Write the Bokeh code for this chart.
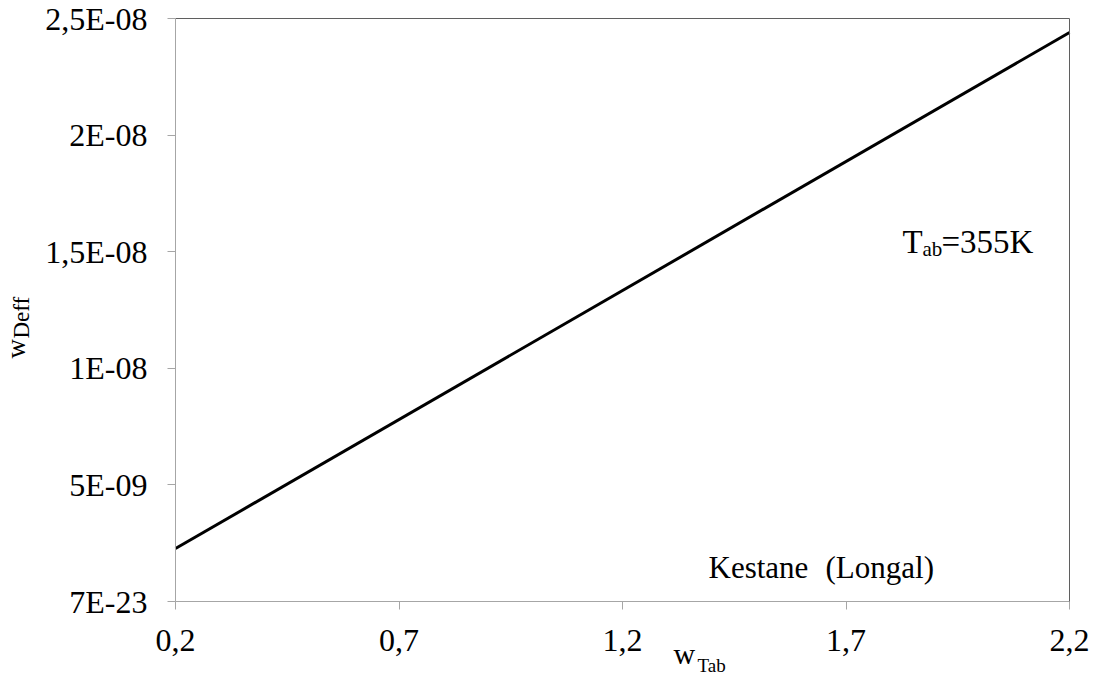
from bokeh.plotting import figure
from bokeh.models import Range1d, FixedTicker, CustomJSTickFormatter, Label, LinearAxis
from bokeh.embed import file_html
from bokeh.resources import INLINE
import math

# ---- data ----
x_vals = [0.2, 2.2]
y_vals = [2.27e-09, 2.44e-08]

x_ticks = [0.2, 0.7, 1.2, 1.7, 2.2]
x_tick_labels = ["0,2", "0,7", "1,2", "1,7", "2,2"]
y_ticks = [0.0, 5e-09, 1e-08, 1.5e-08, 2e-08, 2.5e-08]
y_tick_labels = ["7E-23", "5E-09", "1E-08", "1,5E-08", "2E-08", "2,5E-08"]

note_temp = ("T", "ab", "=355K")
note_wood = ("Kestane", "(Longal)")
x_label = ("w", "Tab")
y_label = ("w", "Deff")

# ---- layout ----
W, H = 1105, 677
FL, FR, FT, FB = 175, 1069, 18, 601          # plot-area box in pixels
XMIN, XMAX = 0.2, 2.2
YMIN, YMAX = 0.0, 2.5e-08
FONT = "Liberation Serif"

# extend the ranges so that the plot area sits at the box above while the
# frame covers the whole canvas (so texts outside the plot area are not clipped)
sx = (XMAX - XMIN) / (FR - FL)
sy = (YMAX - YMIN) / (FB - FT)
x_range = Range1d(XMIN - FL * sx, XMAX + (W - FR) * sx)
y_range = Range1d(YMIN - (H - FB) * sy, YMAX + FT * sy)

p = figure(width=W, height=H, output_backend="svg", toolbar_location=None,
           x_range=x_range, y_range=y_range, x_axis_location=None, y_axis_location=None,
           min_border=0, min_border_left=0, min_border_right=0,
           min_border_top=0, min_border_bottom=0)
p.background_fill_color = "white"
p.border_fill_color = "white"
p.outline_line_color = None
p.xgrid.visible = False
p.ygrid.visible = False

p.line(x_vals, y_vals, line_color="black", line_width=3)

fmt_code = """
let best = 0, bd = Infinity;
for (let i = 0; i < tv.length; i++) {
  const d = Math.abs(tick - tv[i]);
  if (d < bd) { bd = d; best = i; }
}
return lv[best];
"""

xaxis = LinearAxis(fixed_location=YMIN, bounds=(XMIN, XMAX),
                   ticker=FixedTicker(ticks=x_ticks),
                   formatter=CustomJSTickFormatter(args=dict(tv=x_ticks, lv=x_tick_labels), code=fmt_code))
yaxis = LinearAxis(fixed_location=XMIN, bounds=(YMIN, YMAX),
                   ticker=FixedTicker(ticks=y_ticks),
                   formatter=CustomJSTickFormatter(args=dict(tv=y_ticks, lv=y_tick_labels), code=fmt_code))
for ax in (xaxis, yaxis):
    ax.axis_line_color = "#a6a6a6"
    ax.axis_line_width = 1
    ax.major_tick_line_color = "#a6a6a6"
    ax.major_tick_out = 8
    ax.major_tick_in = 0
    ax.minor_tick_line_color = None
    ax.major_label_text_font = FONT
    ax.major_label_text_font_size = "32px"
    ax.major_label_text_color = "black"
    ax.major_label_standoff = 20
p.add_layout(xaxis, "below")
p.add_layout(yaxis, "left")

# top and right frame lines (darker), as bare axes
topaxis = LinearAxis(fixed_location=YMAX, bounds=(XMIN, XMAX), ticker=FixedTicker(ticks=[]))
rightaxis = LinearAxis(fixed_location=XMAX, bounds=(YMIN, YMAX), ticker=FixedTicker(ticks=[]))
for ax in (topaxis, rightaxis):
    ax.axis_line_color = "#5f5f5f"
    ax.axis_line_width = 1
    ax.major_tick_line_color = None
    ax.minor_tick_line_color = None
    ax.major_label_text_font_size = "0px"
p.add_layout(topaxis, "above")
p.add_layout(rightaxis, "right")


def lab(text, px, py, size, angle=0.0):
    p.add_layout(Label(x=px, y=py, x_units="canvas", y_units="canvas", text=text,
                       text_font=FONT, text_font_size=size, text_color="black",
                       text_align="left", text_baseline="alphabetic", angle=angle))


# annotation: T_ab=355K
lab(note_temp[0], 902, 241, "33px")
lab(note_temp[1], 922, 248, "21px")
lab(note_temp[2], 941, 241, "33px")

# annotation: Kestane (Longal)
lab(note_wood[0], 708, 567, "31px")
lab(note_wood[1], 825, 567, "31px")

# x axis label (raised a little so the subscript is not cut at the bottom edge)
lab(x_label[0], 673, 653, "30px")
lab(x_label[1], 697, 665, "19px")

# y axis label (rotated)
lab(y_label[0], 15, 358, "27px", angle=math.pi / 2)
lab(y_label[1], 21, 338, "23px", angle=math.pi / 2)

open("out.html", "w").write(file_html(p, INLINE))
